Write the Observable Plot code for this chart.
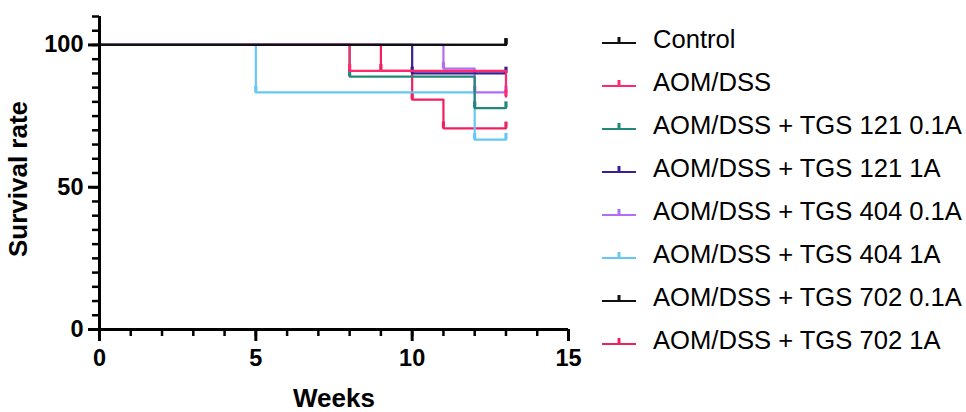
<!DOCTYPE html>
<html>
<head>
<meta charset="utf-8">
<script src="https://cdn.jsdelivr.net/npm/d3@7"></script>
<script src="https://cdn.jsdelivr.net/npm/@observablehq/plot@0.6"></script>
<style>
  html, body { margin: 0; padding: 0; background: #fff; }
  #wrap { position: relative; width: 966px; height: 412px; font-family: "Liberation Sans", Arial, sans-serif; }
  #chart { position: absolute; left: 0; top: 0; }
  #legend { position: absolute; left: 602px; top: 18px; }
  .row { height: 43px; display: flex; align-items: center; }
  .row svg { width: 34px; height: 14px; margin-right: 17px; flex: none; }
  .row span { font-size: 25.6px; color: #000; white-space: nowrap; }
</style>
</head>
<body>
<div id="wrap"><div id="chart"></div><div id="legend"></div></div>
<script>
const groups = ["Control", "AOM/DSS", "AOM/DSS + TGS 121 0.1A", "AOM/DSS + TGS 121 1A",
  "AOM/DSS + TGS 404 0.1A", "AOM/DSS + TGS 404 1A", "AOM/DSS + TGS 702 0.1A", "AOM/DSS + TGS 702 1A"];
const colors = ["#111111", "#ff2a6d", "#23877b", "#3d1e8f", "#b06ef7", "#66c8f5", "#111111", "#f0205f"];
const stepWeeks = [[0, 13], [0, 8, 13], [0, 8, 12, 13], [0, 10, 13], [0, 11, 12, 13], [0, 5, 12, 13], [0, 13], [0, 9, 10, 11, 13]];
const stepSurv = [[100, 100], [100, 90.9, 81.8], [100, 88.9, 77.8, 77.8], [100, 90, 90], [100, 91.7, 83.3, 83.3],
  [100, 83.3, 66.7, 66.7], [100, 100], [100, 90.9, 80.8, 70.7, 70.7]];
const xTicks = [0, 5, 10, 15];
const yTicks = [0, 50, 100];

const rows = [];
groups.forEach((g, i) => stepWeeks[i].forEach((w, j) => rows.push({group: g, idx: i, week: w, surv: stepSurv[i][j], first: j === 0})));
const censor = rows.filter(d => !d.first);
const order = d3.range(groups.length).reverse();

const marks = [];
for (const i of order) {
  const data = rows.filter(d => d.idx === i);
  marks.push(Plot.line(data, {x: "week", y: "surv", curve: "step-after", stroke: colors[i], strokeWidth: 2.2}));
  marks.push(Plot.ruleX(censor.filter(d => d.idx === i), {x: "week", y1: "surv", y2: d => d.surv + 2.2, stroke: colors[i], strokeWidth: 3.2}));
}

const chart = Plot.plot({
  width: 590,
  height: 412,
  marginLeft: 99,
  marginRight: 22,
  marginTop: 16,
  marginBottom: 83,
  style: {fontFamily: "'Liberation Sans', Arial, sans-serif", background: "#fff", overflow: "visible"},
  x: {domain: [0, 15]},
  y: {domain: [0, 110]},
  marks: [
    ...marks,
    Plot.ruleX([0], {stroke: "#000", strokeWidth: 3}),
    Plot.ruleY([0], {stroke: "#000", strokeWidth: 3}),
    Plot.axisY(d3.range(0, 111, 5), {tickSize: 7, text: null, strokeWidth: 2.5, label: null}),
    Plot.axisY(yTicks, {tickSize: 11, tickPadding: 5, strokeWidth: 3, fontSize: 23.5, fontWeight: "bold", fill: "#000", label: null}),
    Plot.axisX(d3.range(0, 16, 1), {tickSize: 7, text: null, strokeWidth: 2.5, label: null}),
    Plot.axisX(xTicks, {tickSize: 12, tickPadding: 8, strokeWidth: 3, fontSize: 23.5, fontWeight: "bold", fill: "#000", label: null}),
    Plot.text(["Survival rate"], {frameAnchor: "left", textAnchor: "middle", dx: -81, dy: 6, rotate: -90, fontSize: 26, fontWeight: "bold", fill: "#000"}),
    Plot.text(["Weeks"], {frameAnchor: "bottom", dy: 77, fontSize: 26, fontWeight: "bold", fill: "#000"})
  ]
});
document.getElementById("chart").appendChild(chart);

const legend = d3.select("#legend");
groups.forEach((g, i) => {
  const row = legend.append("div").attr("class", "row");
  const svg = row.append("svg").attr("viewBox", "0 0 34 14");
  svg.append("line").attr("x1", 0).attr("x2", 34).attr("y1", 10).attr("y2", 10).attr("stroke", colors[i]).attr("stroke-width", 2.2);
  svg.append("line").attr("x1", 17).attr("x2", 17).attr("y1", 4).attr("y2", 10).attr("stroke", colors[i]).attr("stroke-width", 3);
  row.append("span").text(g);
});
</script>
</body>
</html>
